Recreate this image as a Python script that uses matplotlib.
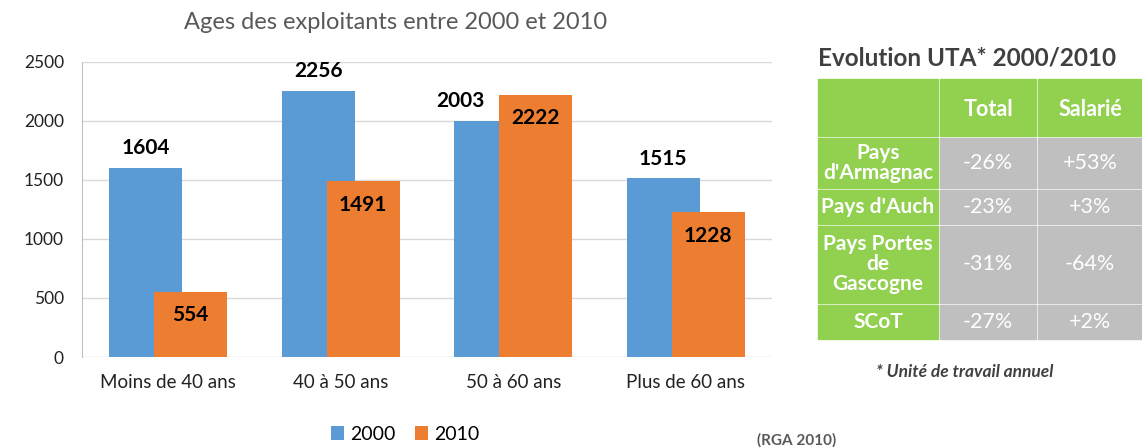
import numpy as np
import matplotlib.pyplot as plt
from matplotlib.patches import Rectangle

plt.rcParams['font.family'] = ['Lato', 'DejaVu Sans']

# données du graphique
categories = ['Moins de 40 ans', '40 à 50 ans', '50 à 60 ans', 'Plus de 60 ans']
ages_2000 = [1604, 2256, 2003, 1515]
ages_2010 = [554, 1491, 2222, 1228]
series_names = ['2000', '2010']

# tableau UTA
table_header = ['', 'Total', 'Salarié']
table_rows = ["Pays\nd'Armagnac", "Pays d'Auch", 'Pays Portes\nde\nGascogne', 'SCoT']
uta_total = ['-26%', '-23%', '-31%', '-27%']
uta_salarie = ['+53%', '+3%', '-64%', '+2%']

blue = '#5B9BD5'
orange = '#ED7D31'
green = '#92D050'
grey = '#BFBFBF'

W, H = 1142, 447
fig = plt.figure(figsize=(W / 100, H / 100), dpi=100)

ax = fig.add_axes([82 / W, 1 - 357 / H, 690 / W, 295 / H])
x = np.arange(len(categories))
bw = 0.423
off = 0.13
b1 = ax.bar(x - off, ages_2000, bw, color=blue, label=series_names[0], zorder=2)
b2 = ax.bar(x + off, ages_2010, bw, color=orange, label=series_names[1], zorder=3)

# étiquettes 2000 au-dessus, 2010 dans la barre
for i, (rect, v) in enumerate(zip(b1, ages_2000)):
    dx = -22 if ages_2010[i] > v else 0   # décaler si la barre orange est plus haute
    ax.annotate(str(v), (rect.get_x() + rect.get_width() / 2, v), xytext=(dx, 14),
                textcoords='offset points', ha='center', va='center',
                fontsize=15, fontweight='bold', color='black', zorder=5)
for rect, v in zip(b2, ages_2010):
    ax.annotate(str(v), (rect.get_x() + rect.get_width() / 2, v), xytext=(0, -17),
                textcoords='offset points', ha='center', va='center',
                fontsize=15, fontweight='bold', color='black', zorder=5)

ax.set_xlim(-0.5, 3.5)
ax.set_ylim(0, 2500)
ax.set_yticks(range(0, 2501, 500))
ax.set_xticks(x)
ax.set_xticklabels(categories)
ax.tick_params(axis='y', length=0, labelsize=12.5, colors='#222222', pad=13)
ax.tick_params(axis='x', length=0, labelsize=13.5, colors='#222222', pad=12)
ax.yaxis.grid(True, color='#D9D9D9', lw=1, zorder=0)
for s in ['top', 'right', 'bottom']:
    ax.spines[s].set_visible(False)
ax.spines['left'].set_color('#BFBFBF')
ax.set_title('Ages des exploitants entre 2000 et 2010', fontsize=17,
             color='#595959', pad=24, x=0.455)

leg = ax.legend(loc='center', bbox_to_anchor=(405 / W, 1 - 434 / H),
                bbox_transform=fig.transFigure, ncol=2, frameon=False,
                fontsize=14, handlelength=0.7, handleheight=0.7,
                handletextpad=0.3, columnspacing=1.0)

# tableau à droite, en pixels
tab = fig.add_axes([0, 0, 1, 1])
tab.set_xlim(0, W)
tab.set_ylim(H, 0)
tab.axis('off')

col_x = [818, 940, 1038]
col_w = [120, 96, 104]
row_y = [79, 138, 190, 226, 305]
row_h = [57, 50, 34, 77, 34]

tab.text(818, 58, 'Evolution UTA* 2000/2010', fontsize=17.5, fontweight='bold',
         color='#404040', ha='left', va='center')

for j, txt in enumerate(table_header):
    tab.add_patch(Rectangle((col_x[j], row_y[0]), col_w[j], row_h[0], color=green))
    tab.text(col_x[j] + col_w[j] / 2, row_y[0] + row_h[0] / 2 + 2, txt, color='white',
             fontsize=15.5, fontweight='bold', ha='center', va='center')

for i, lab in enumerate(table_rows):
    y0 = row_y[i + 1]
    h = row_h[i + 1]
    tab.add_patch(Rectangle((col_x[0], y0), col_w[0], h, color=green))
    tab.text(col_x[0] + col_w[0] / 2, y0 + h / 2, lab, color='white', fontsize=15,
             fontweight='bold', ha='center', va='center', linespacing=1.0)
    for j, val in enumerate([uta_total[i], uta_salarie[i]]):
        tab.add_patch(Rectangle((col_x[j + 1], y0), col_w[j + 1], h, color=grey))
        tab.text(col_x[j + 1] + col_w[j + 1] / 2, y0 + h / 2, val, color='white',
                 fontsize=15.5, ha='center', va='center')

tab.text(965, 372, '* Unité de travail annuel', fontsize=12.5, fontstyle='italic',
         fontweight='bold', color='#404040', ha='center', va='center')
tab.text(797, 440, '(RGA 2010)', fontsize=11, fontweight='bold', color='#595959',
         ha='center', va='center')

fig.savefig('out.png', dpi=100)
